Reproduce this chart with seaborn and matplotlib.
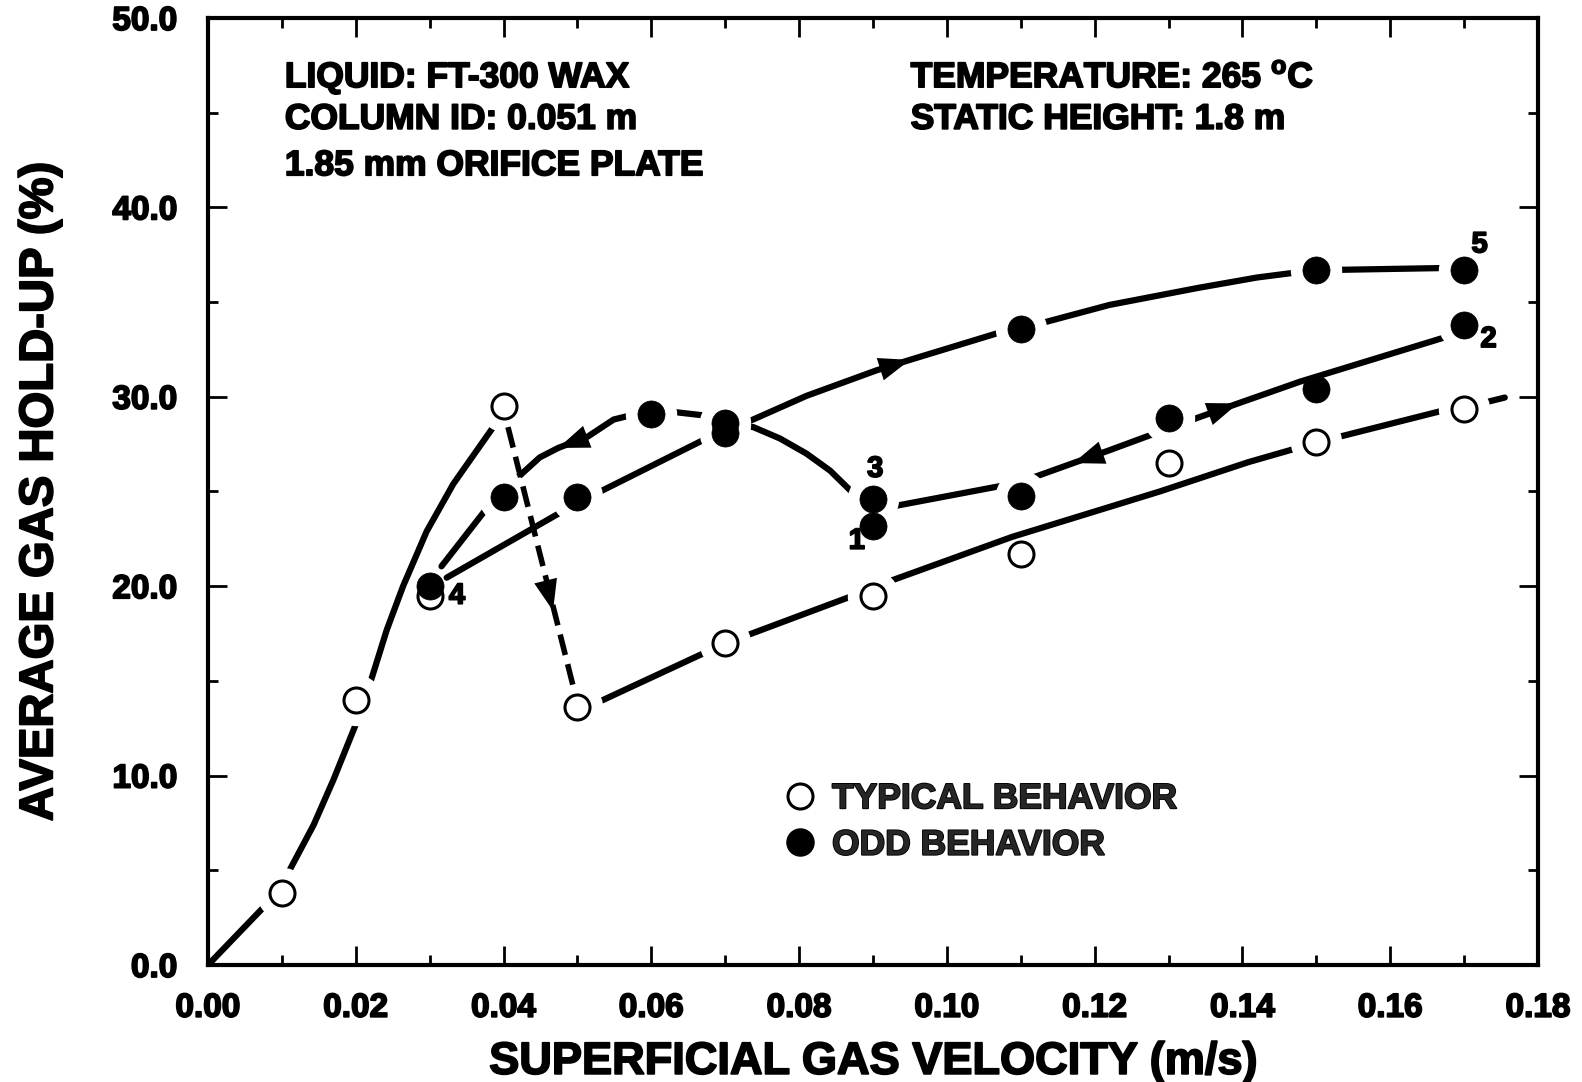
import matplotlib
matplotlib.use("Agg")
import matplotlib.pyplot as plt
import matplotlib.patheffects as pe
from matplotlib.lines import Line2D
from matplotlib.ticker import MultipleLocator, FormatStrFormatter
import seaborn as sns

# ---------------- data ----------------
typ_x = [0.01, 0.02, 0.03, 0.04, 0.05, 0.07, 0.09, 0.11, 0.13, 0.15, 0.17]
typ_y = [3.8, 14.0, 19.5, 29.5, 13.6, 17.0, 19.5, 21.7, 26.5, 27.6, 29.35]

odd_x = [0.03, 0.04, 0.05, 0.06, 0.07, 0.07, 0.09, 0.09, 0.11, 0.11,
         0.13, 0.15, 0.15, 0.17, 0.17]
odd_y = [20.0, 24.7, 24.7, 29.1, 28.6, 28.1, 24.6, 23.2, 24.75, 33.6,
         28.9, 30.4, 36.7, 36.7, 33.8]

# guide curves drawn through / near the data
curveA_x = [0.0, 0.0074, 0.01, 0.0109, 0.0143, 0.017, 0.0201, 0.0222, 0.0242,
            0.0264, 0.0296, 0.0332, 0.0386, 0.04]
curveA_y = [0.0, 3.0, 3.8, 4.9, 7.4, 9.8, 12.8, 15.2, 17.7, 20.0, 22.9,
            25.4, 28.4, 29.5]

curveB_x = [0.05, 0.0524, 0.0673, 0.07, 0.0729, 0.0873, 0.0925, 0.1088,
            0.1288, 0.1408, 0.1475, 0.15, 0.1527, 0.167, 0.17]
curveB_y = [13.6, 13.8, 16.5, 17.0, 17.4, 19.5, 20.3, 22.6, 25.0, 26.55,
            27.3, 27.6, 27.85, 29.26, 29.35]

tail_x = [0.1728, 0.1755]
tail_y = [29.7, 29.96]

dashC_x = [0.0406, 0.0494]
dashC_y = [28.4, 14.75]

curveD_x = [0.0323, 0.0481, 0.05, 0.0531, 0.0673, 0.07, 0.0729, 0.081,
            0.0905, 0.095, 0.1072, 0.11, 0.122, 0.134, 0.142, 0.15, 0.1525,
            0.1674, 0.17]
curveD_y = [20.45, 23.98, 24.7, 25.0, 27.77, 28.3, 28.65, 30.05, 31.4,
            31.95, 33.4, 33.6, 34.85, 35.75, 36.3, 36.7, 36.7, 36.8, 36.7]

curveE_x = [0.09, 0.0925, 0.1074, 0.1121, 0.1171, 0.1218, 0.1284, 0.1329,
            0.1394, 0.1478, 0.1679, 0.17]
curveE_y = [24.0, 24.2, 25.3, 25.8, 26.5, 27.15, 28.1, 28.75, 29.65, 30.8,
            33.2, 33.8]

curveF_x = [0.09, 0.0876, 0.0842, 0.081, 0.0774, 0.0738, 0.07, 0.0675, 0.063,
            0.06, 0.058, 0.0549, 0.0514, 0.0474, 0.0449, 0.0418, 0.04,
            0.0377, 0.0316]
curveF_y = [24.6, 24.8, 26.1, 27.0, 27.8, 28.4, 28.6, 29.0, 29.2, 29.1, 29.1,
            28.8, 27.9, 27.3, 26.8, 25.7, 25.0, 24.1, 21.05]

arrow_tail_x = [0.0455, 0.0514, 0.0905, 0.1218, 0.1355]
arrow_tail_y = [20.6, 27.9, 31.4, 27.15, 29.1]
arrow_tip_x = [0.0467, 0.0474, 0.095, 0.1171, 0.1394]
arrow_tip_y = [18.7, 27.3, 31.95, 26.5, 29.65]

x_ticks = [0.00, 0.02, 0.04, 0.06, 0.08, 0.10, 0.12, 0.14, 0.16, 0.18]
y_ticks = [0.0, 10.0, 20.0, 30.0, 40.0, 50.0]

# points the guide lines run through (line gaps drawn around them)
typ_gap_idx = [0, 1, 3, 4, 5, 6, 9, 10]
odd_gap_idx = [1, 2, 3, 4, 5, 6, 7, 8, 9, 10, 12, 13, 14]

# ---------------- style ----------------
sns.set_theme(style="ticks")
plt.rcParams["font.family"] = ["Liberation Sans", "DejaVu Sans"]
plt.rcParams["mathtext.fontset"] = "custom"
plt.rcParams["mathtext.bf"] = "Liberation Sans:bold"
plt.rcParams["mathtext.rm"] = "Liberation Sans:bold"

heavy = [pe.withStroke(linewidth=1.3, foreground="black")]

fig = plt.figure(figsize=(15.82, 10.82), dpi=100)
ax = fig.add_axes([208 / 1582, 1 - 965 / 1082, 1330 / 1582, (965 - 18) / 1082])
ax.set_facecolor("white")

LW = 4.5
line_kw = dict(color="black", lw=LW, sort=False, estimator=None,
               solid_capstyle="round", zorder=2, ax=ax, legend=False)

for cx, cy in [(curveA_x, curveA_y), (curveB_x, curveB_y),
               (curveD_x, curveD_y), (curveE_x, curveE_y),
               (curveF_x, curveF_y), (tail_x, tail_y)]:
    sns.lineplot(x=cx, y=cy, **line_kw)

# white halos that break the lines around the symbols
gap_x = [typ_x[i] for i in typ_gap_idx] + [odd_x[i] for i in odd_gap_idx]
gap_y = [typ_y[i] for i in typ_gap_idx] + [odd_y[i] for i in odd_gap_idx]
ax.scatter(gap_x, gap_y, s=37 ** 2, c="white", linewidths=0, zorder=3)

# dashed transition line (above halos)
sns.lineplot(x=dashC_x, y=dashC_y, color="black", lw=4.0, sort=False,
             estimator=None, linestyle=(0, (3.8, 1.7)), dash_capstyle="butt",
             zorder=3.5, ax=ax, legend=False)

# markers
sns.scatterplot(x=typ_x, y=typ_y, s=18 ** 2, facecolor="white",
                edgecolor="black", linewidth=2.2, zorder=4, ax=ax,
                legend=False)
sns.scatterplot(x=odd_x, y=odd_y, s=19.5 ** 2, color="black",
                edgecolor="black", linewidth=0.5, zorder=5, ax=ax,
                legend=False)

# arrowheads
for tx, ty, hx, hy in zip(arrow_tail_x, arrow_tail_y, arrow_tip_x, arrow_tip_y):
    ax.annotate("", xy=(hx, hy), xytext=(tx, ty),
                arrowprops=dict(arrowstyle="-|>,head_length=1.6,head_width=0.6",
                                mutation_scale=14, lw=0, color="black",
                                shrinkA=0, shrinkB=0), zorder=6)

# axes
ax.set_xlim(0.0, 0.18)
ax.set_ylim(0.0, 50.0)
ax.set_xticks(x_ticks)
ax.set_yticks(y_ticks)
ax.xaxis.set_minor_locator(MultipleLocator(0.01))
ax.yaxis.set_minor_locator(MultipleLocator(5.0))
ax.xaxis.set_major_formatter(FormatStrFormatter("%.2f"))
ax.yaxis.set_major_formatter(FormatStrFormatter("%.1f"))
ax.tick_params(which="both", direction="in", top=True, right=True,
               color="black", width=2)
ax.tick_params(which="major", length=14)
ax.tick_params(which="minor", length=7)
ax.tick_params(axis="x", which="major", pad=20, labelsize=24)
ax.tick_params(axis="y", which="major", pad=22, labelsize=24)
for lab in ax.get_xticklabels() + ax.get_yticklabels():
    lab.set_fontweight("bold")
    lab.set_color("black")
    lab.set_path_effects(heavy)
for sp in ax.spines.values():
    sp.set_linewidth(3)
    sp.set_color("black")
    sp.set_visible(True)

ax.set_xlabel("SUPERFICIAL GAS VELOCITY (m/s)", fontsize=32.5, fontweight="bold",
              color="black", labelpad=13, path_effects=heavy)
ax.set_ylabel("AVERAGE GAS HOLD-UP (%)", fontsize=34, fontweight="bold",
              color="black", labelpad=36, path_effects=heavy)

# annotation text
tkw = dict(fontsize=25.5, fontweight="bold", color="black", ha="left",
           va="baseline", path_effects=heavy, zorder=7)
ax.text(0.0104, 46.35, "LIQUID: FT-300 WAX", **tkw)
ax.text(0.0104, 44.15, "COLUMN ID: 0.051 m", **tkw)
ax.text(0.0104, 41.7, "1.85 mm ORIFICE PLATE", **tkw)
ax.text(0.0951, 46.35, r"TEMPERATURE: 265 $^{\mathbf{o}}$C", **tkw)
ax.text(0.0951, 44.15, "STATIC HEIGHT: 1.8 m", **tkw)

nkw = dict(fontsize=21, fontweight="bold", color="black", ha="center",
           va="center", path_effects=heavy, zorder=7)
ax.text(0.0903, 26.2, "3", **nkw)
ax.text(0.0878, 22.4, "1", **nkw)
ax.text(0.0337, 19.5, "4", **nkw)
ax.text(0.1721, 38.05, "5", **nkw)
ax.text(0.1733, 33.05, "2", **nkw)

# legend
handles = [
    Line2D([], [], ls="", marker="o", ms=18, mfc="white", mec="black", mew=2.2),
    Line2D([], [], ls="", marker="o", ms=19.5, mfc="black", mec="black"),
]
leg = ax.legend(handles, ["TYPICAL BEHAVIOR", "ODD BEHAVIOR"],
                loc="center left", bbox_to_anchor=(0.4346, 0.151),
                frameon=False, borderpad=0, borderaxespad=0,
                handlelength=0.8, handletextpad=0.5, labelspacing=0.38,
                prop=dict(family=["Liberation Sans", "DejaVu Sans"],
                          weight="bold", size=25.5))
for t in leg.get_texts():
    t.set_path_effects(heavy)

fig.savefig("out.png", dpi=100, facecolor="white")
